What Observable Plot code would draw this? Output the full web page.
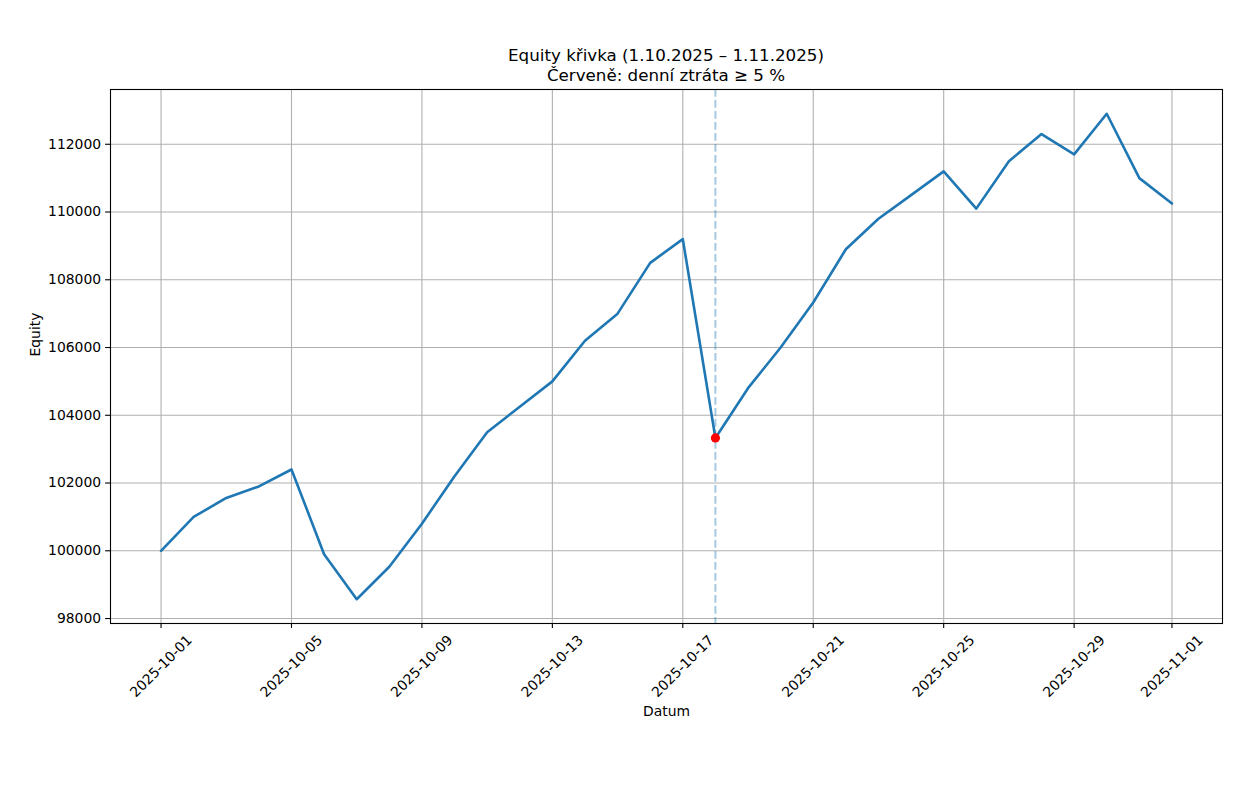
<!DOCTYPE html>
<html><head><meta charset="utf-8">
<script src="https://cdn.jsdelivr.net/npm/d3@7"></script>
<script src="https://cdn.jsdelivr.net/npm/@observablehq/plot@0.6"></script>
<style>
body{margin:0;background:#fff;font-family:"DejaVu Sans",sans-serif;}
#wrap{position:relative;width:1239px;height:802px;}
#title{position:absolute;left:110px;width:1112px;top:45px;text-align:center;font-size:16.7px;line-height:20px;color:#000;font-family:"DejaVu Sans",sans-serif;z-index:2;}
</style></head><body>
<div id="wrap"><div id="title">Equity křivka (1.10.2025 – 1.11.2025)<br>Červeně: denní ztráta ≥ 5 %</div></div>
<script>
const dates = ["2025-10-01","2025-10-02","2025-10-03","2025-10-04","2025-10-05","2025-10-06","2025-10-07","2025-10-08",
  "2025-10-09","2025-10-10","2025-10-11","2025-10-12","2025-10-13","2025-10-14","2025-10-15","2025-10-16",
  "2025-10-17","2025-10-18","2025-10-19","2025-10-20","2025-10-21","2025-10-22","2025-10-23","2025-10-24",
  "2025-10-25","2025-10-26","2025-10-27","2025-10-28","2025-10-29","2025-10-30","2025-10-31","2025-11-01"];
const equity = [100000,101000,101560,101900,102400,99900,98570,99530,
  100800,102200,103500,104250,105000,106200,107000,108500,
  109200,103330,104800,106000,107330,108900,109800,110500,
  111200,110100,111500,112300,111700,112900,111000,110250];
const xTickLabels = ["2025-10-01","2025-10-05","2025-10-09","2025-10-13","2025-10-17","2025-10-21","2025-10-25","2025-10-29","2025-11-01"];
const yTicks = [98000,100000,102000,104000,106000,108000,110000,112000];
const lossThreshold = -0.05;

const parse = d3.utcParse("%Y-%m-%d");
const data = dates.map((d,i)=>({date:parse(d), equity:equity[i]}));
const losses = data.filter((d,i)=> i>0 && (d.equity/data[i-1].equity - 1) <= lossThreshold);
const xTickDates = xTickLabels.map(parse);

const [dx0, dx1] = d3.extent(data, d=>d.date);
const xs = dx1 - dx0;
const [ey0, ey1] = d3.extent(equity);
const ys = ey1 - ey0;

const chart = Plot.plot({
  width:1239, height:802, marginLeft:110, marginRight:17, marginTop:89, marginBottom:179,
  style:{fontFamily:"DejaVu Sans", fontSize:"13.9px", background:"white", color:"black"},
  x:{type:"utc", domain:[new Date(+dx0 - 0.05*xs), new Date(+dx1 + 0.05*xs)]},
  y:{domain:[ey0 - 0.05*ys, ey1 + 0.05*ys]},
  marks:[
    Plot.gridX(xTickDates,{stroke:"#b0b0b0", strokeOpacity:1, strokeWidth:1.1}),
    Plot.gridY(yTicks,{stroke:"#b0b0b0", strokeOpacity:1, strokeWidth:1.1}),
    Plot.ruleX(losses,{x:"date", stroke:"#1f77b4", strokeOpacity:0.4, strokeWidth:2, strokeDasharray:"7.7,3.3"}),
    Plot.line(data,{x:"date", y:"equity", stroke:"#1f77b4", strokeWidth:2.6}),
    Plot.dot(losses,{x:"date", y:"equity", r:4.6, fill:"red", stroke:"none"}),
    Plot.frame({stroke:"black", strokeWidth:1.1}),
    Plot.axisX(xTickDates,{tickSize:4.9, tickPadding:38, tickFormat:d3.utcFormat("%Y-%m-%d"), tickRotate:-45, textAnchor:"middle", lineAnchor:"middle", strokeWidth:1.1, label:null}),
    Plot.axisY(yTicks,{tickSize:4.9, tickPadding:4.5, tickFormat:d=>String(d), strokeWidth:1.1, label:null}),
    Plot.text(["Datum"],{frameAnchor:"bottom", dy:92, text:d=>d, fill:"black"}),
    Plot.text(["Equity"],{frameAnchor:"left", dx:-75, rotate:-90, text:d=>d, fill:"black"})
  ]
});
document.getElementById("wrap").appendChild(chart);
</script>
</body></html>
